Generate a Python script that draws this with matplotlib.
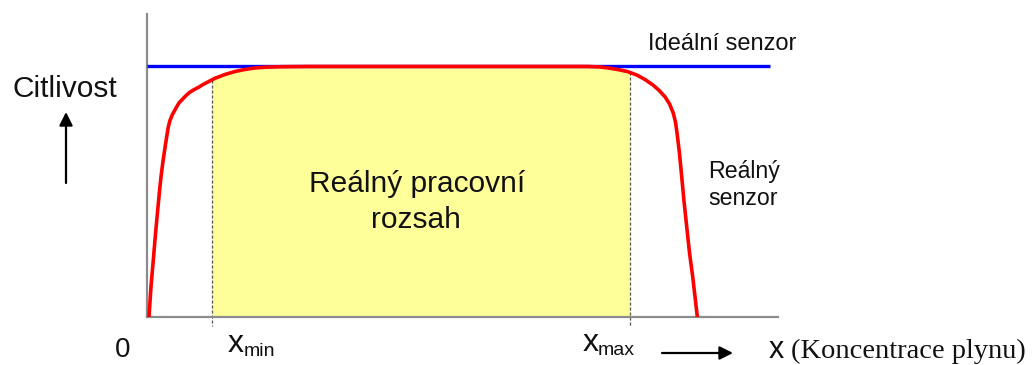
import matplotlib
matplotlib.use("Agg")
import matplotlib.pyplot as plt
import numpy as np

# ---- data (concentration in arbitrary units, sensitivity normalised to ideal = 1) ----
sens_x = [2, 4, 6.3, 8.5, 10.7, 12.5, 14, 16, 17.5, 18.7, 20, 21.3, 23, 25, 26.3, 29.5,
          32, 34.7, 38, 42, 46.3, 52, 56, 61.3, 68, 78, 88, 98, 108, 118, 135, 160, 300,
          440, 453, 463, 473, 481, 489.7, 498, 506, 512, 518, 522.5, 526.3, 528.5, 530,
          532.5, 534.7, 537, 539.7, 542.5, 545.7, 548, 550.3]
sens_y = [0.0, 0.12, 0.226, 0.33, 0.425, 0.50, 0.557, 0.62, 0.66, 0.692, 0.725, 0.756,
          0.782, 0.802, 0.812, 0.835, 0.852, 0.863, 0.877, 0.892, 0.903, 0.915, 0.925,
          0.936, 0.950, 0.965, 0.977, 0.985, 0.991, 0.994, 0.996, 0.997, 0.997,
          0.997, 0.995, 0.990, 0.983, 0.976, 0.963, 0.945, 0.923, 0.902, 0.876, 0.848,
          0.811, 0.775, 0.733, 0.650, 0.558, 0.460, 0.359, 0.255, 0.159, 0.08, 0.0]
ideal_x = [0, 623]
ideal_y = [1.0, 1.0]
x_min = 65
x_max = 483

plt.rcParams['font.family'] = ['Liberation Sans', 'DejaVu Sans']

W, H = 1035, 365
fig = plt.figure(figsize=(W / 100, H / 100), dpi=100)
ax = fig.add_axes([147 / W, (H - 316.7) / H, 631 / W, (316.7 - 14) / H])
ax.set_xlim(0, 631)
ax.set_ylim(0, (316.7 - 14) / 251)

for s in ['top', 'right']:
    ax.spines[s].set_visible(False)
for s in ['left', 'bottom']:
    ax.spines[s].set_color('#8c8c8c')
    ax.spines[s].set_linewidth(1.6)
ax.set_xticks([])
ax.set_yticks([])

# working range fill
fx = np.linspace(x_min, x_max, 400)
fy = np.interp(fx, sens_x, sens_y)
ax.fill_between(fx, 0, fy, color='#ffff99', lw=0, zorder=1)

# dotted limits
for xv in (x_min, x_max):
    yv = np.interp(xv, sens_x, sens_y)
    ax.plot([xv, xv], [yv, -0.037], color='#555555', lw=0.9, ls=(0, (2.5, 1.5)),
            clip_on=False, zorder=2)

ax.plot(ideal_x, ideal_y, color='#0000ff', lw=2.4, solid_capstyle='butt', zorder=3)
ax.plot(sens_x, sens_y, color='#ff0000', lw=2.6, zorder=4, solid_joinstyle='round')

def ft(x, y, s, **kw):
    fig.text(x / W, 1 - y / H, s, **kw)

ft(12, 97, 'Citlivost', fontsize=21.5, ha='left', va='baseline', color='#111111')
ft(123, 357, '0', fontsize=20, ha='center', va='baseline', color='#111111')

ft(228, 352, 'x', fontsize=23, ha='left', va='baseline', color='#111111')
ft(244, 356, 'min', fontsize=14, ha='left', va='baseline', color='#111111')
ft(583, 351, 'x', fontsize=23, ha='left', va='baseline', color='#111111')
ft(598, 355, 'max', fontsize=14, ha='left', va='baseline', color='#111111')

ft(648, 50, 'Ideální senzor', fontsize=17, ha='left', va='baseline', color='#111111')
ft(708, 178, 'Reálný', fontsize=16.7, ha='left', va='baseline', color='#111111')
ft(708, 205, 'senzor', fontsize=16.7, ha='left', va='baseline', color='#111111')

ft(417, 192, 'Reálný pracovní', fontsize=21.5, ha='center', va='baseline', color='#111111')
ft(416, 228, 'rozsah', fontsize=21.5, ha='center', va='baseline', color='#111111')

ft(769, 358, 'x', fontsize=22, ha='left', va='baseline', color='#111111')
fig.text(791 / W, 1 - 358 / H, '(Koncentrace plynu)', fontsize=20.5,
         family=['Liberation Serif', 'DejaVu Serif'], ha='left', va='baseline', color='#111111')

# arrows
ax.annotate('', xy=(66, H - 112), xytext=(66, H - 183), xycoords='figure pixels',
            textcoords='figure pixels',
            arrowprops=dict(arrowstyle='-|>', lw=1.6, color='black', mutation_scale=20,
                            shrinkA=0, shrinkB=0))
ax.annotate('', xy=(733, H - 353), xytext=(662, H - 353), xycoords='figure pixels',
            textcoords='figure pixels',
            arrowprops=dict(arrowstyle='-|>', lw=1.6, color='black', mutation_scale=20,
                            shrinkA=0, shrinkB=0))

fig.savefig('out.png', dpi=100)
